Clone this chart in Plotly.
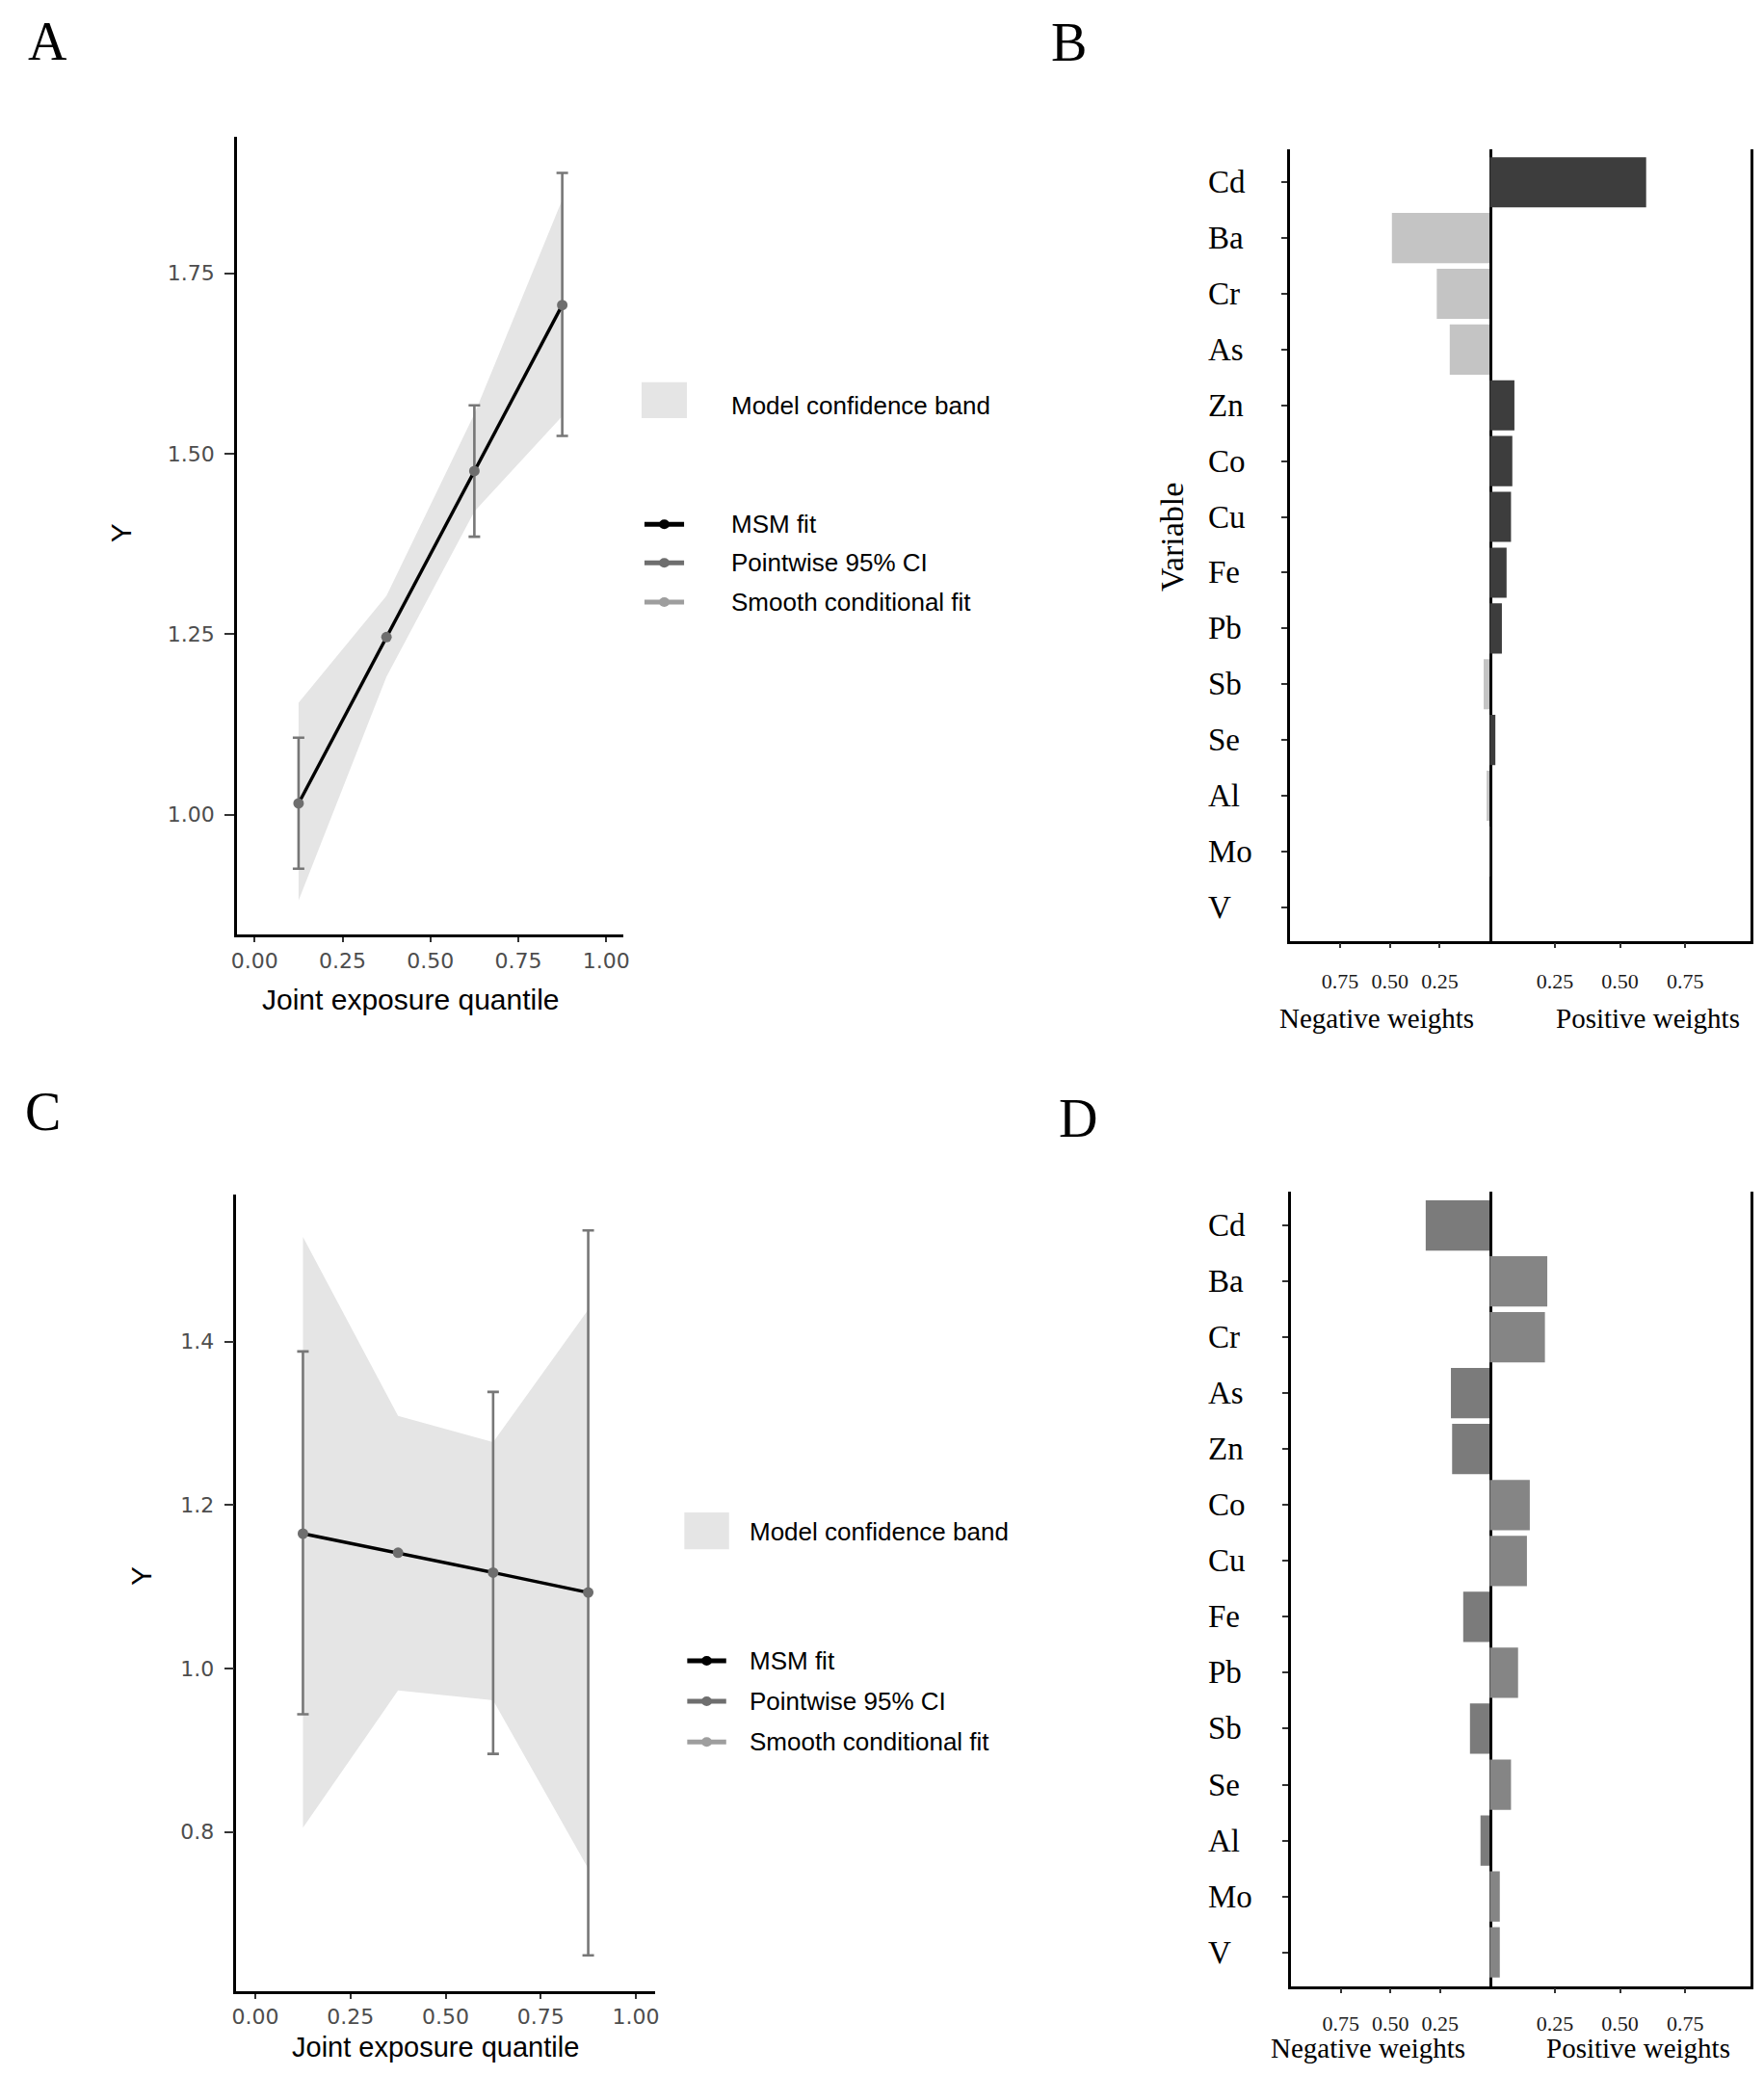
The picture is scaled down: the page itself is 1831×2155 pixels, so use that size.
import plotly.graph_objects as go

# page body has an 8px margin: the figure is placed at (8, 8) inside the 1831x2155 window
OFF = 8
W, H = 1831 - 2 * OFF, 2155 - 2 * OFF


def px(x):
    return min(max((x - OFF) / W, 0.0), 1.0)


def py(y):
    return min(max(1 - (y - OFF) / H, 0.0), 1.0)


# ---------------- data ----------------
quantile_x = [0.125, 0.375, 0.625, 0.875]

A_fit = [1.0156, 1.246, 1.476, 1.706]
A_band_lo = [0.881, 1.191, 1.420, 1.552]
A_band_hi = [1.155, 1.303, 1.555, 1.852]
A_ci_lo = [0.925, None, 1.385, 1.5246]
A_ci_hi = [1.1066, None, 1.567, 1.889]

C_fit = [1.165, 1.1417, 1.1174, 1.093]
C_band_lo = [0.805, 0.973, 0.961, 0.755]
C_band_hi = [1.528, 1.309, 1.277, 1.439]
C_ci_lo = [0.944, None, 0.8955, 0.649]
C_ci_hi = [1.388, None, 1.3385, 1.536]

x_ticks = [0.0, 0.25, 0.5, 0.75, 1.0]
x_ticktext = ["0.00", "0.25", "0.50", "0.75", "1.00"]
A_yticks = [1.0, 1.25, 1.5, 1.75]
A_yticktext = ["1.00", "1.25", "1.50", "1.75"]
C_yticks = [0.8, 1.0, 1.2, 1.4]
C_yticktext = ["0.8", "1.0", "1.2", "1.4"]

variables = ["Cd", "Ba", "Cr", "As", "Zn", "Co", "Cu", "Fe", "Pb", "Sb", "Se", "Al", "Mo", "V"]
B_weights = [0.600, -0.490, -0.265, -0.200, 0.095, 0.087, 0.082, 0.065, 0.047,
             -0.030, 0.022, -0.015, 0.002, 0.0]
D_weights = [-0.322, 0.221, 0.212, -0.195, -0.189, 0.154, 0.143, -0.133, 0.109,
             -0.099, 0.082, -0.046, 0.039, 0.039]
w_ticks = [0.25, 0.5, 0.75]
w_ticktext = ["0.25", "0.50", "0.75"]

legend_labels = ["Model confidence band", "MSM fit", "Pointwise 95% CI", "Smooth conditional fit"]

# ---------------- styles ----------------
SANS = "Liberation Sans, Arial, sans-serif"
WIDE = "DejaVu Sans, sans-serif"
SERIF = "Liberation Serif, Times New Roman, serif"
BAND = "#e5e5e5"
PT = "#6e6e6e"
ERR = "#777777"
SMOOTH = "#9e9e9e"

fig = go.Figure()


def add_effect_panel(xa, ya, fit, lo, hi, cilo, cihi):
    # model confidence band
    fig.add_trace(go.Scatter(x=quantile_x, y=lo, mode="lines", line=dict(width=0),
                             showlegend=False, hoverinfo="skip", xaxis=xa, yaxis=ya))
    fig.add_trace(go.Scatter(x=quantile_x, y=hi, mode="lines", line=dict(width=0),
                             fill="tonexty", fillcolor=BAND, showlegend=False,
                             xaxis=xa, yaxis=ya))
    # pointwise 95% CI
    idx = [i for i in range(len(quantile_x)) if cilo[i] is not None]
    fig.add_trace(go.Scatter(
        x=[quantile_x[i] for i in idx], y=[fit[i] for i in idx], mode="markers",
        marker=dict(size=1, color="rgba(0,0,0,0)"),
        error_y=dict(type="data", symmetric=False,
                     array=[cihi[i] - fit[i] for i in idx],
                     arrayminus=[fit[i] - cilo[i] for i in idx],
                     color=ERR, thickness=2.6, width=6),
        showlegend=False, xaxis=xa, yaxis=ya))
    # MSM fit
    fig.add_trace(go.Scatter(x=quantile_x, y=fit, mode="lines",
                             line=dict(color="black", width=3.4),
                             showlegend=False, xaxis=xa, yaxis=ya))
    fig.add_trace(go.Scatter(x=quantile_x, y=fit, mode="markers",
                             marker=dict(color=PT, size=11),
                             showlegend=False, xaxis=xa, yaxis=ya))


add_effect_panel("x", "y", A_fit, A_band_lo, A_band_hi, A_ci_lo, A_ci_hi)
add_effect_panel("x4", "y4", C_fit, C_band_lo, C_band_hi, C_ci_lo, C_ci_hi)


def add_weight_panel(xneg, yneg, xpos, ypos, weights, cneg, cpos):
    neg_v = [v for v, w in zip(variables, weights) if w < 0]
    neg_w = [-w for w in weights if w < 0]
    pos_v = [v for v, w in zip(variables, weights) if w >= 0]
    pos_w = [w for w in weights if w >= 0]
    fig.add_trace(go.Bar(y=neg_v, x=neg_w, orientation="h", width=0.9,
                         marker=dict(color=cneg, line=dict(width=0)),
                         showlegend=False, xaxis=xneg, yaxis=yneg))
    fig.add_trace(go.Bar(y=pos_v, x=pos_w, orientation="h", width=0.9,
                         marker=dict(color=cpos, line=dict(width=0)),
                         showlegend=False, xaxis=xpos, yaxis=ypos))


add_weight_panel("x2", "y2", "x3", "y3", B_weights, "#c4c4c4", "#3d3d3d")
add_weight_panel("x5", "y5", "x6", "y6", D_weights, "#7b7b7b", "#858585")

# ---------------- axes ----------------
line_ax = dict(showline=True, linecolor="black", linewidth=2.6, showgrid=False,
               zeroline=False, fixedrange=True)


def effect_x(domain, anchor, standoff):
    return dict(domain=domain, anchor=anchor, range=[-0.05, 1.05], tickvals=x_ticks,
                ticktext=x_ticktext, ticks="outside", ticklen=5, tickwidth=2,
                tickcolor="#333333", ticklabelstandoff=standoff,
                tickfont=dict(family=WIDE, size=22, color="#4d4d4d"), **line_ax)


def effect_y(domain, anchor, rng, tv, tt):
    return dict(domain=domain, anchor=anchor, range=rng, tickvals=tv, ticktext=tt,
                ticks="outside", ticklen=10, tickwidth=2, tickcolor="#333333",
                ticklabelstandoff=6,
                tickfont=dict(family=WIDE, size=22, color="#4d4d4d"), **line_ax)


def weight_x(domain, anchor, rng, standoff):
    return dict(domain=domain, anchor=anchor, range=rng, tickvals=w_ticks,
                ticktext=w_ticktext, ticks="outside", ticklen=5, tickwidth=2,
                tickcolor="#333333", ticklabelstandoff=standoff,
                tickfont=dict(family=SERIF, size=22, color="#1a1a1a"), **line_ax)


def weight_y(domain, anchor, ticks, matches=None):
    d = dict(domain=domain, anchor=anchor, type="category", categoryorder="array",
             categoryarray=variables, range=[13.6, -0.6],
             ticks=ticks, ticklen=6, tickwidth=2, tickcolor="#333333",
             showticklabels=False, **line_ax)
    if matches:
        # right-hand panel: only the outer right border line
        d["matches"] = matches
        d["side"] = "right"
    else:
        # left panel: left axis line plus the zero line at its right edge
        d["mirror"] = True
    return d


fig.update_layout(
    xaxis=effect_x([px(241.6), px(645.7)], "y", 1),
    yaxis=effect_y([py(970), py(141.7)], "x", [0.834, 1.9395], A_yticks, A_yticktext),
    xaxis2=weight_x([px(1342), px(1550.4)], "y2", [1.0, 0.0], 15),
    yaxis2=weight_y([py(976.5), py(154.5)], "x2", "outside"),
    xaxis3=weight_x([px(1550.4), px(1823.8)], "y3", [0.0, 1.0], 15),
    yaxis3=weight_y([py(976.5), py(154.5)], "x3", "", "y2"),
    xaxis4=effect_x([px(240.9), px(678.1)], "y4", 0),
    yaxis4=effect_y([py(2067), py(1240)], "x4", [0.605, 1.580], C_yticks, C_yticktext),
    xaxis5=weight_x([px(1343), px(1550.4)], "y5", [1.0, 0.0], 12),
    yaxis5=weight_y([py(2061.5), py(1237.2)], "x5", "outside"),
    xaxis6=weight_x([px(1550.4), px(1823.8)], "y6", [0.0, 1.0], 12),
    yaxis6=weight_y([py(2061.5), py(1237.2)], "x6", "", "y5"),
)

# ---------------- text ----------------
ann = []


def text(x, y, s, font, size, color="black", xanchor="center", angle=0, xref="paper", yref="paper"):
    ann.append(dict(x=x, y=y, xref=xref, yref=yref, text=s, showarrow=False,
                    xanchor=xanchor, yanchor="middle", textangle=angle,
                    font=dict(family=font, size=size, color=color)))


# panel letters
text(px(43.5), py(43), "A", SERIF, 56)
text(px(1110.6), py(44), "B", SERIF, 56)
text(px(38.5), py(1154), "C", SERIF, 56)
text(px(1120), py(1161), "D", SERIF, 56)

# effect panel axis titles
text(px(423), py(1037), "Joint exposure quantile", SANS, 30)
text(px(449), py(2125), "Joint exposure quantile", SANS, 29)
text(px(121), py(553), "Y", SANS, 30, angle=-90)
text(px(141), py(1636), "Y", SANS, 30, angle=-90)

# weight panel titles and category labels
text(px(1218), py(558), "Variable", SERIF, 34, angle=-90)
text(px(1432.7), py(1056.7), "Negative weights", SERIF, 29)
text(px(1715.4), py(1056.7), "Positive weights", SERIF, 29)
text(px(1423.5), py(2126), "Negative weights", SERIF, 29)
text(px(1706), py(2126), "Positive weights", SERIF, 29)
for i, v in enumerate(variables):
    text(px(1254), i, v, SERIF, 33, xanchor="left", yref="y2")
    text(px(1254), i, v, SERIF, 33, xanchor="left", yref="y5")

# legends (drawn as keys + labels)
shapes = []


def legend(key_x0, key_x1, band_y0, band_y1, text_x, band_text_y, line_ys):
    shapes.append(dict(type="rect", xref="paper", yref="paper", x0=px(key_x0), x1=px(key_x1),
                       y0=py(band_y1), y1=py(band_y0), fillcolor=BAND, line=dict(width=0)))
    text(px(text_x), py(band_text_y), legend_labels[0], SANS, 26, xanchor="left")
    for ly, col, lab in zip(line_ys, ["black", PT, SMOOTH], legend_labels[1:]):
        lx0, lx1 = key_x0 + 3, key_x1 - 3
        shapes.append(dict(type="line", xref="paper", yref="paper", x0=px(lx0), x1=px(lx1),
                           y0=py(ly), y1=py(ly), line=dict(color=col, width=5)))
        cx = (lx0 + lx1) / 2
        shapes.append(dict(type="circle", xref="paper", yref="paper", x0=px(cx - 5.5),
                           x1=px(cx + 5.5), y0=py(ly + 5), y1=py(ly - 5),
                           fillcolor=col, line=dict(width=0)))
        text(px(text_x), py(ly), lab, SANS, 26, xanchor="left")


legend(664.3, 711.7, 396.7, 434, 756, 421, [544.3, 584.3, 625])
legend(709, 755.7, 1570, 1608.3, 775, 1590, [1724, 1766, 1808.3])

fig.update_layout(
    width=W, height=H, margin=dict(l=0, r=0, t=0, b=0),
    paper_bgcolor="white", plot_bgcolor="white",
    annotations=ann, shapes=shapes, showlegend=False, barmode="overlay",
)

fig.write_html("out.html")
